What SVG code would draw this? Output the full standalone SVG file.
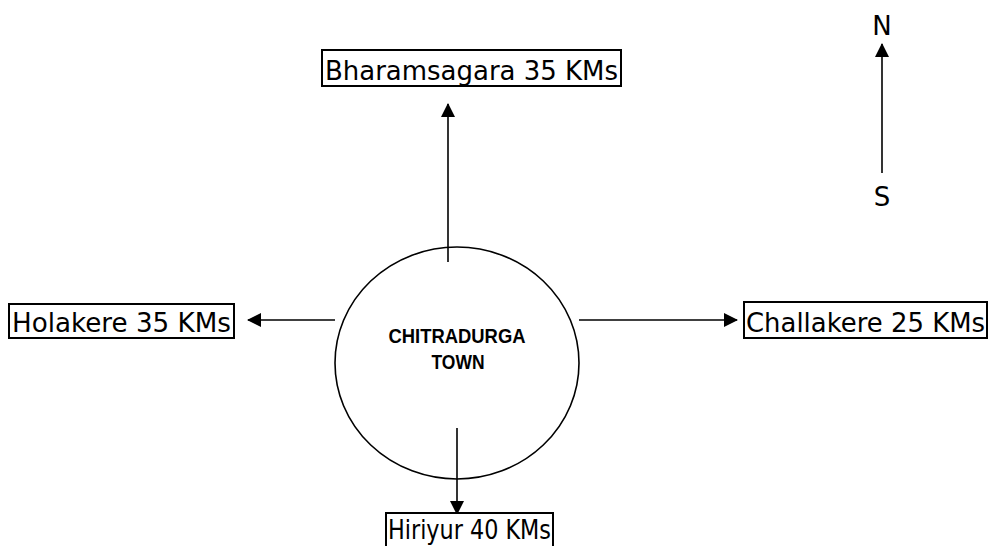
<svg xmlns="http://www.w3.org/2000/svg" width="989" height="546" viewBox="0 0 989 546">
<style>
.box{fill:#fff;stroke:#000;stroke-width:2}
.lbl{font-family:"DejaVu Sans","Liberation Sans",sans-serif;font-size:26px;fill:#000}
.ctr{font-family:"Liberation Sans",Arial,sans-serif;font-size:20px;font-weight:bold;fill:#000;text-anchor:middle}
.ln{stroke:#000;stroke-width:1.6;fill:none}
</style>
<defs>
<marker id="ah" markerWidth="14" markerHeight="14" refX="13" refY="7" orient="auto" markerUnits="userSpaceOnUse" viewBox="0 0 14 14">
<path d="M0,0 L14,7 L0,14 z" fill="#000"/>
</marker>
</defs>
<rect width="989" height="546" fill="#fff"/>
<g id="connectors">
<line class="ln" x1="448" y1="262" x2="448" y2="104" marker-end="url(#ah)"/>
<line class="ln" x1="335" y1="320" x2="248" y2="320" marker-end="url(#ah)"/>
<line class="ln" x1="579" y1="320" x2="737" y2="320" marker-end="url(#ah)"/>
<line class="ln" x1="457" y1="428" x2="457" y2="514" marker-end="url(#ah)"/>
<line class="ln" x1="882" y1="173" x2="882" y2="44" marker-end="url(#ah)"/>
</g>
<g id="center">
<ellipse cx="457" cy="363" rx="122" ry="116" fill="none" stroke="#000" stroke-width="1.6"/>
<text class="ctr" x="457" y="343" textLength="137" lengthAdjust="spacingAndGlyphs">CHITRADURGA</text>
<text class="ctr" x="458" y="369" textLength="53" lengthAdjust="spacingAndGlyphs">TOWN</text>
</g>
<g id="bharamsagara">
<rect class="box" x="322" y="50" width="299" height="36"/>
<text class="lbl" x="325" y="80" textLength="293" lengthAdjust="spacingAndGlyphs">Bharamsagara 35 KMs</text>
</g>
<g id="holakere">
<rect class="box" x="9" y="304" width="225" height="34"/>
<text class="lbl" x="12" y="332" textLength="219" lengthAdjust="spacingAndGlyphs">Holakere 35 KMs</text>
</g>
<g id="challakere">
<rect class="box" x="744" y="302" width="243" height="36"/>
<text class="lbl" x="746" y="332" textLength="239" lengthAdjust="spacingAndGlyphs">Challakere 25 KMs</text>
</g>
<g id="hiriyur">
<rect class="box" x="386" y="513" width="167" height="40"/>
<text class="lbl" x="388" y="539" textLength="163" lengthAdjust="spacingAndGlyphs">Hiriyur 40 KMs</text>
</g>
<g id="compass">
<text class="lbl" x="882" y="35" text-anchor="middle" font-size="24">N</text>
<text class="lbl" x="882" y="206" text-anchor="middle" font-size="24">S</text>
</g>
</svg>
